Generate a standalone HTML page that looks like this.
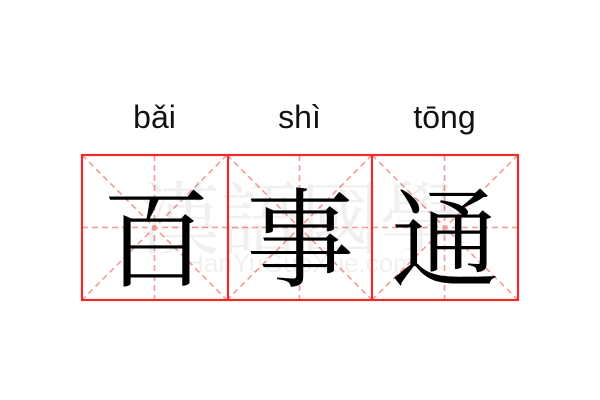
<!DOCTYPE html>
<html><head><meta charset="utf-8"><style>
body{margin:0;width:600px;height:400px;background:#fff;overflow:hidden;position:relative}
.py{position:absolute;top:99px;font:32px "Liberation Sans","DejaVu Sans",sans-serif;color:#111;width:145px;text-align:center}
</style></head><body>
<div class="py" style="left:82px">bǎi</div>
<div class="py" style="left:227px">shì</div>
<div class="py" style="left:372px">tōng</div>
<svg width="600" height="400" style="position:absolute;left:0;top:0">
<g stroke="#f59a9a" stroke-width="1.6" stroke-dasharray="6,4" fill="none">
<line x1="82" y1="227.5" x2="518" y2="227.5"/>
<line x1="154.5" y1="155" x2="154.5" y2="300"/>
<line x1="299.5" y1="155" x2="299.5" y2="300"/>
<line x1="444.5" y1="155" x2="444.5" y2="300"/>
<line x1="82" y1="155" x2="227" y2="300"/><line x1="227" y1="155" x2="82" y2="300"/>
<line x1="227" y1="155" x2="372" y2="300"/><line x1="372" y1="155" x2="227" y2="300"/>
<line x1="372" y1="155" x2="518" y2="300"/><line x1="518" y1="155" x2="372" y2="300"/>
</g>
<text x="300" y="248" text-anchor="middle" font-family="Noto Serif CJK SC,serif" font-size="80" fill="#000" fill-opacity="0.06">漢語國學</text>
<text x="300" y="272" text-anchor="middle" font-family="Liberation Sans,sans-serif" font-size="26" fill="#000" fill-opacity="0.06">HanYuGuoXue.com</text>
<g font-family="Noto Serif CJK SC,serif" font-size="108" fill="#000" text-anchor="middle">
<text x="156" y="278">百</text><text x="300" y="278">事</text><text x="445" y="278">通</text>
</g>
<g stroke="#ee2b2b" stroke-width="2.2" fill="none">
<rect x="82" y="155" width="436" height="145"/>
<line x1="228" y1="155" x2="228" y2="300"/>
<line x1="372" y1="155" x2="372" y2="300"/>
</g>
</svg>
</body></html>
